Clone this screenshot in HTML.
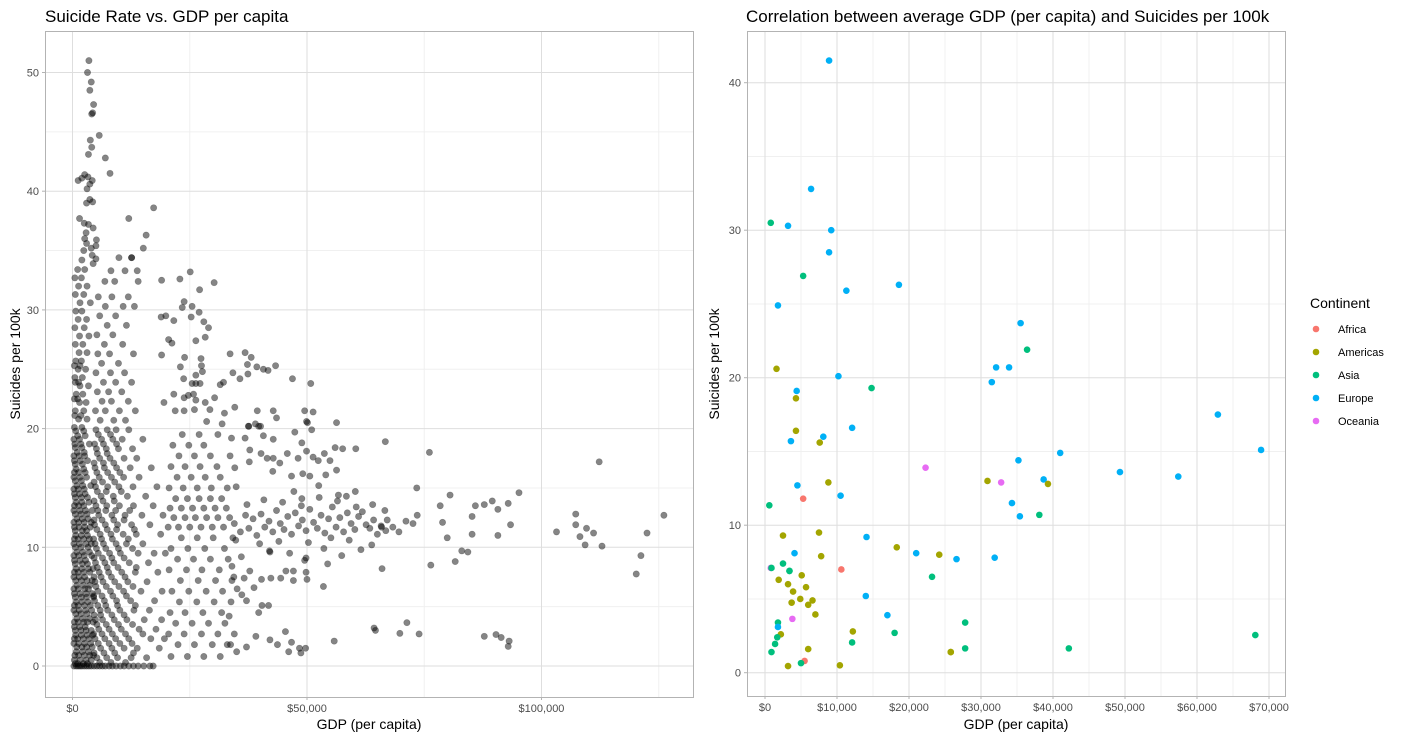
<!DOCTYPE html>
<html><head><meta charset="utf-8">
<style>
html,body{margin:0;padding:0;background:#fff;}
svg{display:block;font-family:"Liberation Sans",sans-serif;}
</style></head>
<body>
<svg id="chart" width="1402" height="739" viewBox="0 0 1402 739">
  <text x="45" y="22" font-size="17" fill="#000">Suicide Rate vs. GDP per capita</text>
  <text x="746" y="22" font-size="17" fill="#000">Correlation between average GDP (per capita) and Suicides per 100k</text>
  <g id="leftGrid"></g>
  <g id="leftPts"></g>
  <rect x="45.5" y="31.5" width="648" height="666" fill="none" stroke="#b3b3b3" stroke-width="1"/>
  <g id="leftAxes"></g>
  <text x="369" y="729" font-size="14" text-anchor="middle">GDP (per capita)</text>
  <text transform="translate(20,364) rotate(-90)" font-size="14" text-anchor="middle">Suicides per 100k</text>

  <g id="rightGrid"></g>
  <g id="rightPts"></g>
  <rect x="747.5" y="31.5" width="538" height="665" fill="none" stroke="#b3b3b3" stroke-width="1"/>
  <g id="rightAxes"></g>
  <text x="1016" y="729" font-size="14" text-anchor="middle">GDP (per capita)</text>
  <text transform="translate(719,364) rotate(-90)" font-size="14" text-anchor="middle">Suicides per 100k</text>

  <g id="legend">
    <text x="1310" y="308" font-size="14">Continent</text>
  </g>
</svg>
<script>
// ---------- LEFT CHART DATA (gdp in $1000s, suicides per 100k) ----------
const leftXTicks = [0, 50, 100];
const leftXTickLabels = ["$0", "$50,000", "$100,000"];
const leftYTicks = [0, 10, 20, 30, 40, 50];
// rows: [rate, gdp1, gdp2, ...]
const rowObs = [
 [0, 0.3,0.8,1.2,1.6,2.0,2.5,3.0,3.5,4.0,4.6,5.2,5.8,6.4,7.0,7.8,8.5,9.3,10.2,11.0,12.0,13.0,14.0,15.2,16.5,17.2],
 [0.5,0.4,1.6,2.9,4.0],[1.2,0.8,2.1,3.4],[1.9,0.3,1.3,2.6,3.9],[2.6,0.7,1.9,3.1,4.3],[3.3,0.4,1.5,2.7],
 [4.0,0.9,2.2,3.6],[4.7,0.3,1.4,2.8,4.1],[5.4,0.8,2.0,3.3],[6.1,0.4,1.6,2.9,4.2],[6.8,0.9,2.3,3.7],
 [7.5,0.3,1.4,2.6],[8.2,0.8,2.0,3.4,4.4],[8.9,0.4,1.6,2.8],[9.6,0.9,2.2,3.6],[10.3,0.3,1.5,2.9,4.0],
 [11.0,0.7,1.9,3.2],[11.7,0.4,1.4,2.6,3.8],[12.4,0.9,2.1,3.3],[13.1,0.3,1.6,2.8,4.2],[13.8,0.8,2.0,3.5],
 [14.5,0.4,1.5,2.7],[15.2,0.9,2.2,3.9],[15.9,0.3,1.6,3.0],[16.6,0.8,2.4],[17.3,0.4,1.7,3.2],[18.0,1.0,2.5],
 [18.7,0.5,1.8,3.6],[19.4,1.1,2.7],[20.1,0.4,2.0],[20.8,1.3,3.1],[21.5,0.6,2.4],[22.2,1.5,2.9],[22.9,0.8,2.2],
 [23.6,1.6,3.4],[24.3,0.5,2.1],[25.0,1.2,2.8],[25.7,0.7,1.9],[26.4,1.4,3.1],[27.1,0.6,2.2],[27.8,1.5,3.5],
 [28.5,0.5,2.5],[29.2,1.2,3.0],[29.9,0.7,2.0],[30.6,1.6,3.8],[31.3,0.6,2.4],[32.0,1.3,3.1],[32.7,0.5,1.9],[33.4,1.1,2.6],
 [0.7,5.2,7.3,9.6,12.5,15.8],[1.5,6.0,8.4,11.0,13.8,18.5],[2.3,4.8,6.9,9.2,12.0,16.7,19.6],[3.1,5.6,7.8,10.4,14.2,17.8],
 [3.9,4.9,6.4,8.9,11.6,15.3,19.0],[4.7,5.9,7.5,10.1,13.1,16.4],[5.5,4.7,6.8,9.4,12.4,17.5],[6.3,5.4,8.1,10.9,14.6,19.1],
 [7.1,4.8,6.5,9.0,11.8,15.9],[7.9,5.7,7.7,10.5,13.4,18.2],[8.7,4.9,6.9,8.8,12.1,16.2],[9.5,5.5,7.9,10.2,14.0,17.4,19.8],
 [10.3,4.8,6.6,9.3,11.5,15.0],[11.1,5.9,8.2,10.8,13.6,18.8],[11.9,4.7,7.0,9.6,12.6,16.5],[12.7,5.6,8.4,11.2,14.8,19.3],
 [13.5,5.0,7.3,10.0,13.0,17.2],[14.3,6.1,8.7,11.7,15.6],[15.1,4.9,7.5,9.9,12.9,18.0],[15.9,5.7,8.3,10.9,14.2],
 [16.7,4.8,6.8,9.4,12.3,16.8],[17.5,5.8,8.0,11.0,13.7],[18.3,5.1,7.2,9.8,12.8],[19.1,6.2,8.6,10.6,15.0],
 [19.9,5.0,7.4,9.3,12.0],[20.7,5.9,8.8,11.3],[21.5,4.9,7.0,10.0,13.4],[22.3,6.3,8.3,11.9],[23.1,5.3,7.7,10.5],
 [23.9,6.6,9.2,12.6],[24.7,5.0,8.1,11.1],[25.5,6.2,9.8],[26.3,5.4,7.9,13.0],[27.1,6.8,10.7],[27.9,5.2,8.6],
 [28.7,7.4,11.5],[29.5,5.8,9.2],[30.3,7.0,10.8,13.2],[31.1,5.5,8.4,11.9],[32.4,6.9,9.0],[33.3,8.2,11.2,13.8],[34.4,9.9,12.6],
 [0.8,21.0,24.5,28.0,31.5],[1.8,22.5,26.0,29.8,33.0],[2.7,20.5,23.8,27.5,31.0,34.5],[3.6,22.0,25.5,29.0,32.5],
 [4.5,20.8,24.0,27.8,31.8],[5.4,22.8,26.5,30.2,33.8],[6.3,21.2,24.8,28.5,32.0],[7.2,23.0,26.8,30.5,34.0],
 [8.1,20.6,24.3,27.6,31.3],[9.0,22.4,25.8,29.4,33.2],[9.9,21.0,24.6,28.2,32.4],[10.8,23.2,26.6,30.0,34.2],
 [11.7,20.4,22.6,25.0,27.4,29.8,32.2],[12.5,21.6,24.0,26.2,28.6,31.0,33.5],[13.3,20.8,23.2,25.6,28.0,30.4,32.8],
 [14.1,22.0,24.5,27.0,29.4,31.8],[15.0,20.6,23.6,26.6,29.6,33.0],[15.9,22.3,25.3,28.3,31.5],[16.8,21.0,24.0,27.2,30.8],
 [17.7,22.7,26.0,29.4,33.6],[18.6,21.4,24.8,28.0],[19.5,23.4,27.0,31.0]
];
// additional dense-column observations: [rate, gdp...]
const colExtra = [
 [0.2,0.6,1.1,2.3,3.2],[0.9,0.5,1.3,2.5,3.7,4.5],[1.6,0.9,2.0,3.0,4.2],[2.3,0.4,1.1,2.3,3.5],[3.0,0.6,1.8,2.9,4.0],
 [3.7,0.4,1.2,2.4,3.2,4.4],[4.4,0.7,1.8,3.1],[5.1,0.4,1.2,2.5,3.8],[5.8,0.6,1.9,3.0,4.5],[6.5,0.3,1.2,2.6,3.4],
 [7.2,0.7,1.9,3.1,4.2],[7.9,0.4,1.2,2.4,3.7],[8.6,0.6,2.1,3.2],[9.3,0.3,1.3,2.5,4.1],[10.0,0.6,1.8,3.3],
 [10.7,0.4,1.2,2.4,3.6],[11.4,0.6,2.1,3.0],[12.1,0.3,1.3,2.5,4.0],[12.8,0.6,1.8,3.1],[13.5,0.4,1.3,2.4],
 [14.2,0.6,1.9,3.2],[14.9,0.3,1.2,2.5],[15.6,0.6,1.9],[16.3,0.4,1.3,2.7],[17.0,0.6,2.1],[17.7,0.3,1.4,2.6],
 [18.4,0.6,2.0],[19.1,0.3,1.5],[19.8,0.7,2.4],[21.1,0.5,1.8],[22.5,0.4,1.1],[23.9,0.6,1.3],[25.3,0.4,1.6]
];
const midExtra = [
 [0.3,5.8,8.2,11.3],[1.1,4.6,6.7,9.0,13.0],[1.9,5.5,7.8,10.1,12.7],[2.7,4.5,6.3,8.5,11.3,15.0],[3.5,5.2,7.2,9.8,12.8],
 [4.3,4.6,6.0,8.4,11.0],[5.1,5.4,7.1,9.6,13.4],[5.9,4.5,6.3,8.6,11.5],[6.7,5.0,7.2,9.9,12.9],[7.5,4.6,6.1,8.3,11.2],
 [8.3,5.3,7.4,9.7,13.6],[9.1,4.6,6.4,8.4,11.0],[9.9,5.1,7.1,9.8,12.8],[10.7,4.5,6.2,8.5,11.9],[11.5,5.2,7.4,9.4,13.2],
 [12.3,4.6,6.3,8.8,11.0],[13.1,5.4,7.1,9.2,12.2],[13.9,4.6,6.5,8.9],[14.7,5.3,7.2,10.4],[15.5,4.6,6.4,9.0],
 [16.3,5.2,7.5,10.1],[17.1,4.6,6.6,8.8],[17.9,5.3,7.4],[18.7,4.7,6.6,9.4],[19.5,5.5,8.1]
];
// individual observations: [gdp, rate]
const pairObs = [
 [3.5,51],[3.2,50],[4.0,49.2],[3.7,48.5],[4.5,47.3],[4.1,46.5],[4.3,46.6],[5.7,44.7],[3.8,44.3],[4.1,43.7],[3.4,43.1],
 [7.0,42.8],[8.0,41.5],[1.2,40.9],[2.0,41.1],[2.6,41.4],[3.3,41.2],[4.2,40.9],[3.7,40.6],[3.1,40.2],[3.0,39.0],[3.7,39.3],
 [4.3,39.1],[1.5,37.7],[2.5,37.3],[3.4,37.2],[4.4,36.9],[2.9,36.5],[2.6,36.0],[3.0,35.6],[5.1,35.9],[5.0,35.4],[2.4,35.0],
 [4.0,35.2],[4.2,34.6],[2.0,34.2],[5.0,34.3],[4.4,33.9],[12.0,37.7],[17.3,38.6],[12.6,34.4],[15.7,36.3],[15.1,35.2],[14.0,32.4],
 [19.0,32.5],[22.9,32.6],[25.1,33.2],[27.1,31.7],[30.2,32.3],[23.8,30.7],[23.4,30.2],[25.5,30.3],[18.9,29.4],[19.9,29.5],
 [27.0,29.8],[25.3,29.4],[21.6,29.1],[28.0,29.0],[29.0,28.5],[28.3,27.7],[26.3,27.4],[20.5,27.5],[21.2,27.2],[19.0,26.2],
 [23.9,26.0],[27.4,25.9],[27.5,25.3],[23.0,25.2],[27.7,24.8],[26.3,24.5],[23.7,24.2],[33.6,26.3],[36.8,26.4],[38.1,26.0],
 [37.3,25.4],[39.3,25.2],[40.7,25.0],[43.3,25.3],[41.7,24.9],[34.2,24.7],[35.7,24.2],[37.4,24.6],[46.9,24.2],[50.8,23.8],
 [25.5,23.8],[26.3,23.8],[27.2,23.8],[31.5,23.7],[32.2,23.9],[21.6,22.9],[23.8,22.6],[24.7,22.8],[25.8,22.9],[26.3,22.4],
 [28.3,22.2],[30.3,22.6],[19.5,22.2],[21.9,21.5],[23.8,21.5],[26.0,21.6],[29.3,21.6],[32.4,21.3],[34.6,21.8],[28.6,20.6],
 [31.9,20.4],[39.4,21.5],[42.8,21.5],[49.5,21.5],[51.3,21.4],[50.1,20.5],[56.3,20.5],[37.6,20.2],[39.7,20.2],
 [47.4,19.7],[48.9,18.8],[40.7,19.4],[42.8,19.1],[36.8,19.2],[37.8,18.2],[33.9,19.2],[40.1,20.2],[51.0,19.9],[49.9,20.6],
 [43.5,20.9],[39.0,20.4],[37.5,20.2],[42.8,17.5],[41.5,17.5],[44.2,17.1],[45.8,17.9],[48.1,17.5],[49.9,18.1],[51.3,17.6],
 [52.4,17.3],[53.7,17.9],[54.9,17.3],[56.0,18.4],[57.6,18.3],[60.4,18.3],[40.2,17.9],[37.7,17.2],[34.6,16.7],[34.9,15.1],
 [42.7,16.4],[46.7,16.0],[49.1,16.2],[50.6,16.0],[54.0,16.1],[56.3,16.5],[52.5,15.2],[47.2,14.7],[48.9,14.1],[56.7,14.4],
 [58.4,14.3],[60.3,14.7],[64.0,13.6],[66.6,13.1],[66.7,18.9],
 [34.5,12.0],[35.8,11.3],[36.9,12.7],[37.6,11.6],[38.5,12.4],[39.3,11.0],[40.2,12.8],[41.0,11.7],[41.9,12.2],[42.7,11.3],
 [43.5,13.1],[44.3,12.0],[45.1,11.5],[45.9,12.6],[46.7,11.1],[47.5,12.9],[48.2,11.8],[49.0,12.3],[49.8,11.4],[50.6,13.2],
 [51.4,12.1],[52.2,11.6],[53.0,12.7],[53.8,11.2],[54.6,12.4],[55.4,13.4],[56.2,11.7],[57.0,12.5],[57.8,11.3],[58.6,12.9],
 [59.4,12.0],[60.2,11.5],[61.0,12.6],[61.8,13.0],[62.6,11.9],[63.4,11.6],[64.2,12.3],[65.0,11.1],[65.8,11.8],[37.2,13.6],
 [40.8,14.0],[44.8,13.8],[48.8,13.5],[52.6,14.2],[56.5,13.9],[60.5,13.4],[34.8,10.6],[39.9,10.3],[44.0,10.5],[50.3,10.4],
 [55.1,10.8],[59.0,10.6],[63.8,10.2],[42.0,9.7],[46.3,9.5],[53.6,9.9],[57.4,9.3],[61.5,9.8],[36.0,9.2],[49.5,8.9],[54.4,8.6],
 [34.0,8.4],[34.4,7.5],[36.6,7.4],[38.7,6.6],[40.3,7.3],[42.3,7.4],[44.4,7.4],[45.5,8.0],[47.1,8.0],[47.1,7.2],[49.8,7.9],
 [50.0,7.3],[49.8,9.1],[53.5,6.7],[42.1,9.6],[37.8,8.0],[35.1,6.5],[39.7,4.5],[40.4,5.1],[41.8,5.1],[37.1,5.5],[36.1,6.0],[33.4,4.2],
 [39.1,2.5],[42.1,2.2],[43.7,1.8],[45.4,2.9],[46.7,2.0],[46.1,1.2],[48.4,1.5],[48.7,1.1],[49.7,1.5],[55.8,2.1],[64.6,3.0],
 [35.0,1.2],[37.1,1.6],[33.7,1.8],[64.3,3.2],
 [76.1,18.0],[73.4,15.0],[67.1,12.3],[65.9,11.7],[66.8,11.4],[68.3,11.7],[69.6,11.3],[71.1,12.2],
 [72.6,12.0],[73.5,12.7],[78.4,13.5],[80.5,14.4],[78.9,12.1],[79.9,10.8],[83.0,9.7],[84.3,9.6],[81.6,8.8],[76.4,8.5],[66.0,8.2],
 [85.2,12.6],[85.9,13.5],[87.8,13.6],[89.5,13.9],[90.7,13.2],[92.9,13.7],[95.2,14.6],[93.4,11.9],[90.7,11.0],[85.2,11.1],
 [103.2,11.3],[107.3,12.8],[107.3,11.9],[109.6,11.6],[111.1,11.2],[108.2,10.9],[109.3,10.2],[112.9,10.1],[112.3,17.2],
 [122.5,11.2],[126.1,12.7],[121.2,9.3],[120.2,7.75],[71.3,3.65],[69.8,2.75],[73.9,2.7],[87.8,2.5],[90.3,2.65],[91.4,2.4],
 [93.1,2.1],[92.9,1.65]
];

// ---------- RIGHT CHART DATA ----------
const continents = ["Africa","Americas","Asia","Europe","Oceania"];
const continentColors = ["#F8766D","#A3A500","#00BF7D","#00B0F6","#E76BF3"];
const rightXTicks = [0,10,20,30,40,50,60,70];
const rightXTickLabels = ["$0","$10,000","$20,000","$30,000","$40,000","$50,000","$60,000","$70,000"];
const rightYTicks = [0,10,20,30,40];
const countryContinent = [
 "Europe","Europe","Europe","Asia","Europe","Europe","Asia","Europe","Europe","Europe",
 "Europe","Asia","Europe","Europe","Europe","Americas","Europe","Europe","Americas","Asia",
 "Europe","Americas","Europe","Americas","Europe","Europe","Oceania","Europe","Europe","Americas",
 "Americas","Oceania","Europe","Americas","Europe","Africa","Europe","Europe","Europe","Europe",
 "Asia","Europe","Europe","Asia","Americas","Americas","Europe","Americas","Europe","Americas",
 "Europe","Americas","Europe","Asia","Europe","Asia","Asia","Asia","Americas","Asia",
 "Asia","Americas","Asia","Oceania","Asia","Africa","Asia","Americas","Americas","Americas",
 "Americas","Europe","Americas","Americas","Americas","Americas","Americas","Europe","Americas","Oceania",
 "Asia","Europe","Americas","Asia","Americas","Asia","Asia","Asia","Americas","Asia",
 "Africa","Asia","Americas","Americas"
];
const countryGdp = [
 8.9,6.4,3.2,0.8,9.2,8.9,5.3,11.3,18.6,1.8,
 35.5,36.4,32.1,33.9,31.5,1.6,10.2,4.4,4.3,14.8,
 12.1,4.3,8.1,7.6,3.6,41.0,22.3,35.2,38.7,39.3,
 30.9,32.8,4.5,8.8,10.5,5.3,49.3,57.4,62.9,68.9,
 38.1,34.3,35.4,0.6,2.5,7.5,14.1,18.3,21.0,24.2,
 4.1,7.8,26.6,2.5,31.9,23.2,27.8,27.8,25.8,42.2,
 68.1,25.8,3.4,0.8,0.9,10.6,3.4,5.1,1.9,3.2,
 5.7,14.0,3.9,4.9,6.6,3.7,6.0,17.0,7.0,3.8,
 1.8,1.8,12.2,18.0,2.2,1.7,12.1,1.4,6.0,0.9,
 5.5,5.0,3.2,10.4
];
const countryRate = [
 41.5,32.8,30.3,30.5,30.0,28.5,26.9,25.9,26.3,24.9,
 23.7,21.9,20.7,20.7,19.7,20.6,20.1,19.1,18.6,19.3,
 16.6,16.4,16.0,15.6,15.7,14.9,13.9,14.4,13.1,12.8,
 13.0,12.9,12.7,12.9,12.0,11.8,13.6,13.3,17.5,15.1,
 10.7,11.5,10.6,11.35,9.3,9.5,9.2,8.5,8.1,8.0,
 8.1,7.9,7.7,7.4,7.8,6.5,3.4,1.65,1.4,1.65,
 2.55,1.4,6.9,7.1,7.1,7.0,6.9,6.6,6.3,6.0,
 5.8,5.2,5.5,5.0,4.9,4.75,4.6,3.9,3.95,3.65,
 3.4,3.1,2.8,2.7,2.6,2.4,2.05,1.95,1.6,1.4,
 0.8,0.65,0.45,0.5
];

// ---------- SCALES ----------
const xL = g => 72.5 + g * 4.69;
const yL = r => 666 - r * 11.87;
const xR = g => 765 + g * 7.2;
const yR = r => 672.7 - r * 14.75;
const NS = "http://www.w3.org/2000/svg";
function mk(tag, attrs, parent){
  const el = document.createElementNS(NS, tag);
  for (const k in attrs) el.setAttribute(k, attrs[k]);
  parent.appendChild(el);
  return el;
}

// ---------- LEFT GRID ----------
const lg = document.getElementById('leftGrid');
for (let v = 25; v <= 125; v += 50) {
  const l = mk('line', {x1:xL(v), x2:xL(v), y1:32, y2:697, stroke:'#f0f0f0', 'stroke-width':1}, lg);
  
  
}
for (let v = 5; v <= 45; v += 10) {
  const l = mk('line', {x1:46, x2:693, y1:yL(v), y2:yL(v), stroke:'#f0f0f0', 'stroke-width':1}, lg);
  
  
}
leftXTicks.forEach(v => {
  const l = mk('line', {x1:xL(v), x2:xL(v), y1:32, y2:697, stroke:'#dedede', 'stroke-width':1}, lg);
  
  
});
leftYTicks.forEach(v => {
  const l = mk('line', {x1:46, x2:693, y1:yL(v), y2:yL(v), stroke:'#dedede', 'stroke-width':1}, lg);
  
  
});
// ---------- LEFT AXES ----------
const la = document.getElementById('leftAxes');
leftXTicks.forEach((v, i) => {
  mk('line', {x1:xL(v), x2:xL(v), y1:697, y2:700, stroke:'#b3b3b3'}, la);
  const t = mk('text', {x:xL(v), y:712, 'font-size':11, 'text-anchor':'middle', fill:'#4d4d4d'}, la);
  t.textContent = leftXTickLabels[i];
  
  
});
leftYTicks.forEach(v => {
  mk('line', {x1:42, x2:45, y1:yL(v), y2:yL(v), stroke:'#b3b3b3'}, la);
  const t = mk('text', {x:39, y:yL(v)+4, 'font-size':11, 'text-anchor':'end', fill:'#4d4d4d'}, la);
  t.textContent = String(v);
  
  
});
// ---------- LEFT POINTS ----------
const lp = document.getElementById('leftPts');
function leftPoint(g, r){
  const c = mk('circle', {cx:xL(g), cy:yL(r), r:3.2, fill:'rgba(0,0,0,0.48)', stroke:'rgba(0,0,0,0.25)', 'stroke-width':0.6}, lp);
  
  
}
rowObs.forEach(row => { for (let i = 1; i < row.length; i++) leftPoint(row[i], row[0]); });
colExtra.forEach(row => { for (let i = 1; i < row.length; i++) leftPoint(row[i], row[0]); });
midExtra.forEach(row => { for (let i = 1; i < row.length; i++) leftPoint(row[i], row[0]); });
pairObs.forEach(p => leftPoint(p[0], p[1]));

// ---------- RIGHT GRID ----------
const rg = document.getElementById('rightGrid');
for (let v = 5; v <= 75; v += 10) {
  if (xR(v) > 1285) continue;
  const l = mk('line', {x1:xR(v), x2:xR(v), y1:32, y2:696, stroke:'#f0f0f0', 'stroke-width':1}, rg);
  
  
}
for (let v = 5; v <= 35; v += 10) {
  const l = mk('line', {x1:748, x2:1285, y1:yR(v), y2:yR(v), stroke:'#f0f0f0', 'stroke-width':1}, rg);
  
  
}
rightXTicks.forEach(v => {
  const l = mk('line', {x1:xR(v), x2:xR(v), y1:32, y2:696, stroke:'#dedede', 'stroke-width':1}, rg);
  
  
});
rightYTicks.forEach(v => {
  const l = mk('line', {x1:748, x2:1285, y1:yR(v), y2:yR(v), stroke:'#dedede', 'stroke-width':1}, rg);
  
  
});
// ---------- RIGHT AXES ----------
const ra = document.getElementById('rightAxes');
rightXTicks.forEach((v, i) => {
  mk('line', {x1:xR(v), x2:xR(v), y1:696, y2:699, stroke:'#b3b3b3'}, ra);
  const t = mk('text', {x:xR(v), y:711, 'font-size':11, 'text-anchor':'middle', fill:'#4d4d4d'}, ra);
  t.textContent = rightXTickLabels[i];
  
  
});
rightYTicks.forEach(v => {
  mk('line', {x1:744, x2:747, y1:yR(v), y2:yR(v), stroke:'#b3b3b3'}, ra);
  const t = mk('text', {x:741, y:yR(v)+4, 'font-size':11, 'text-anchor':'end', fill:'#4d4d4d'}, ra);
  t.textContent = String(v);
  
  
});
// ---------- RIGHT POINTS ----------
const rp = document.getElementById('rightPts');
countryGdp.forEach((g, i) => {
  const col = continentColors[continents.indexOf(countryContinent[i])];
  const c = mk('circle', {cx:xR(g), cy:yR(countryRate[i]), r:3.3, fill:col}, rp);
  
  
});
// ---------- LEGEND ----------
const lgd = document.getElementById('legend');
continents.forEach((name, i) => {
  const y = 329 + i * 23;
  const c = mk('circle', {cx:1316, cy:y, r:3.3, fill:continentColors[i]}, lgd);
  
  
  const t = mk('text', {x:1338, y:y+4, 'font-size':11, fill:'#000'}, lgd);
  t.textContent = name;
  
  
});
</script>
</body></html>
